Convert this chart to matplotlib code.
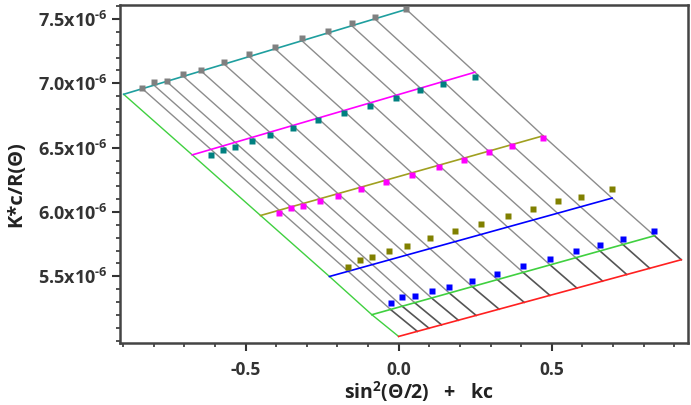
import numpy as np
import matplotlib
matplotlib.use("Agg")
import matplotlib.pyplot as plt
from matplotlib.ticker import MultipleLocator, FixedLocator, FuncFormatter

plt.rcParams['font.family'] = ['Open Sans', 'DejaVu Sans']
plt.rcParams['mathtext.fontset'] = 'custom'
plt.rcParams['mathtext.rm'] = 'Open Sans:bold'
plt.rcParams['mathtext.bf'] = 'Open Sans:bold'

# sin^2(theta/2) for each detector angle
s_angle = [0.061, 0.099, 0.140, 0.195, 0.253, 0.328, 0.410, 0.494, 0.582, 0.666, 0.745, 0.820, 0.923]

# concentration shift k*c for each concentration line (last one is c = 0)
kc = [-0.898, -0.674, -0.451, -0.226, -0.0875, 0.0]
# fitted lines K*c/R = a + b*sin^2(theta/2), values in 1e-6
fit_a = [6.915, 6.444, 5.973, 5.499, 5.202, 5.033]
fit_b = [0.715, 0.696, 0.671, 0.660, 0.665, 0.646]
line_colors = ['#1f9f9f', '#ff00ff', '#a0a020', '#0000ff', '#40d040', '#ff2020']

# measured points (1e-6), one series per measured concentration
y_gray = [6.962, 7.011, 7.019, 7.073, 7.106, 7.166, 7.228, 7.285, 7.352, 7.409, 7.469, 7.518, 7.578]
y_teal = [6.444, 6.485, 6.506, 6.553, 6.599, 6.656, 6.716, 6.773, 6.827, 6.889, 6.949, 6.993, 7.052]
y_magenta = [5.991, 6.035, 6.048, 6.082, 6.128, 6.178, 6.231, 6.289, 6.353, 6.405, 6.465, 6.514, 6.574]
y_olive = [5.572, 5.629, 5.650, 5.696, 5.738, 5.796, 5.852, 5.908, 5.968, 6.025, 6.085, 6.120, 6.178]
y_blue = [5.293, 5.339, 5.349, 5.388, 5.419, 5.466, 5.522, 5.580, 5.637, 5.696, 5.743, 5.790, 5.849]
point_sets = [y_gray, y_teal, y_magenta, y_olive, y_blue]
point_colors = ['#808080', '#008080', '#ff00ff', '#808000', '#0000ff']

y_major = [5.5, 6.0, 6.5, 7.0, 7.5]

s = np.array(s_angle)
a = np.array(fit_a) * 1e-6
b = np.array(fit_b) * 1e-6
kc = np.array(kc)

fig = plt.figure(figsize=(6.91, 4.05), dpi=100)
ax = fig.add_axes([120/691, 1 - 343/405, 568/691, 338/405])

# constant-angle lines (gray)
for sj in s:
    xs = sj + kc
    ys = a + b * sj
    ax.plot(xs[:-1], ys[:-1], color='#8c8c8c', lw=1.0, zorder=1)
    ax.plot(xs[-2:], ys[-2:], color='#555555', lw=1.2, zorder=1)

# theta = 0 extrapolation
ax.plot(kc, a, color='#40d040', lw=1.0, zorder=2)

# constant-concentration lines
for i in range(len(kc)):
    xx = np.array([0.0, s[-1]])
    ax.plot(xx + kc[i], a[i] + b[i] * xx, color=line_colors[i], lw=1.2, zorder=2)

# measured points
for i, ys in enumerate(point_sets):
    ax.plot(s + kc[i], np.array(ys) * 1e-6, 's', color=point_colors[i],
            ms=5, mec='none', zorder=3)

ax.set_xlim(-0.91, 0.945)
ax.set_ylim(4.982e-6, 7.609e-6)

ax.xaxis.set_major_locator(MultipleLocator(0.5))
ax.xaxis.set_minor_locator(MultipleLocator(0.1))
ax.yaxis.set_major_locator(FixedLocator([v * 1e-6 for v in y_major]))
ax.yaxis.set_minor_locator(MultipleLocator(0.1e-6))
ax.xaxis.set_major_formatter(FuncFormatter(lambda v, p: '%.1f' % v))
ax.yaxis.set_major_formatter(FuncFormatter(lambda v, p: '%.1fx10$^{\\text{-}6}$' % (v * 1e6)))

ax.tick_params(which='major', direction='out', length=6, width=1.5, color='#333333',
               labelcolor='#333333')
ax.tick_params(which='minor', direction='out', length=3, width=1.2, color='#333333')
ax.tick_params(axis='x', labelsize=12.5, pad=7)
ax.tick_params(axis='y', labelsize=13, pad=3)
ax.tick_params(top=False, right=False)
for lab in ax.get_xticklabels() + ax.get_yticklabels():
    lab.set_fontweight('bold')
for sp in ax.spines.values():
    sp.set_linewidth(1.8)
    sp.set_color('#444444')

ax.set_xlabel('sin$^{2}$(\u0398/2)   +   kc', fontsize=14, fontweight='bold', color='#222222')
ax.xaxis.set_label_coords((419 - 120) / 568, -36 / 338)
ax.xaxis.label.set_va('top')
ax.set_ylabel('K*c/R(\u0398)', fontsize=14.5, fontweight='bold', color='#222222')
ax.yaxis.set_label_coords(-94 / 568, 0.47)

fig.savefig('out.png', dpi=100)
